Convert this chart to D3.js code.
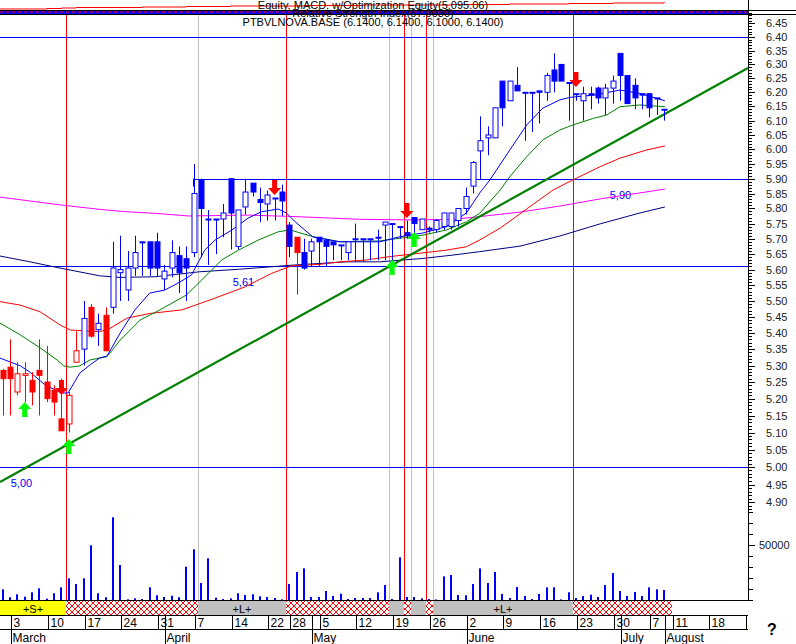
<!DOCTYPE html>
<html><head><meta charset="utf-8">
<script src="https://cdn.jsdelivr.net/npm/d3@7"></script>
<style>body{margin:0;background:#fff} svg{display:block;font-family:Arial,"Liberation Sans",sans-serif}</style>
</head><body><svg id="c" width="796" height="644"></svg>
<script>
// ---------- DATA ----------
const dayIndex = d3.range(-1, 90); // trading-day index, 0 = 3 March
const opens  = [5.285,5.295,5.22,5.27,5.255,5.285,5.25,5.225,5.14,5.125,5.31,5.35,5.48,5.41,5.455,5.48,5.59,5.535,5.605,5.688,5.69,5.69,5.57,5.605,5.645,5.635,5.655,5.895,5.762,5.762,5.765,5.90,5.675,5.805,5.885,5.83,5.815,5.832,5.855,5.745,5.705,5.655,5.66,5.705,5.695,5.69,5.678,5.655,5.698,5.698,5.698,5.703,5.745,5.748,5.738,5.72,5.77,5.73,5.735,5.73,5.74,5.74,5.76,5.80,5.875,5.995,6.04,6.04,6.24,6.17,6.225,6.198,6.198,6.205,6.20,6.28,6.30,6.232,6.193,6.17,6.195,6.215,6.18,6.215,6.34,6.26,6.225,6.195,6.195,6.178,6.138];
const highs  = [5.29,5.38,5.31,5.31,5.28,5.38,5.36,5.24,5.26,5.22,5.405,5.50,5.49,5.46,5.48,5.69,5.71,5.66,5.71,5.69,5.69,5.72,5.615,5.695,5.675,5.675,5.95,5.90,5.795,5.765,5.815,5.90,5.795,5.90,5.885,5.87,5.86,5.835,5.88,5.755,5.705,5.70,5.70,5.705,5.70,5.69,5.68,5.69,5.75,5.70,5.70,5.73,5.755,5.75,5.74,5.76,5.77,5.765,5.74,5.765,5.785,5.785,5.80,5.87,5.96,6.115,6.08,6.145,6.24,6.24,6.29,6.20,6.20,6.205,6.27,6.34,6.30,6.235,6.195,6.22,6.22,6.22,6.23,6.26,6.34,6.26,6.25,6.195,6.195,6.18,6.14];
const lows   = [5.15,5.15,5.21,5.19,5.18,5.15,5.19,5.15,5.105,5.10,5.31,5.30,5.385,5.36,5.345,5.46,5.50,5.50,5.58,5.58,5.58,5.58,5.535,5.575,5.525,5.50,5.64,5.64,5.615,5.65,5.705,5.665,5.665,5.78,5.84,5.755,5.76,5.76,5.775,5.64,5.52,5.60,5.61,5.61,5.61,5.63,5.63,5.63,5.625,5.625,5.63,5.63,5.63,5.63,5.70,5.70,5.71,5.73,5.72,5.72,5.73,5.73,5.74,5.78,5.85,5.896,5.98,6.04,6.08,6.17,6.205,6.03,6.06,6.09,6.17,6.20,6.24,6.10,6.17,6.10,6.14,6.16,6.12,6.16,6.17,6.16,6.14,6.14,6.112,6.12,6.10];
const closes = [5.26,5.26,5.275,5.275,5.22,5.27,5.20,5.19,5.105,5.21,5.345,5.445,5.39,5.43,5.345,5.605,5.60,5.605,5.655,5.69,5.605,5.605,5.595,5.655,5.59,5.605,5.85,5.80,5.765,5.765,5.785,5.785,5.795,5.855,5.855,5.82,5.845,5.835,5.825,5.675,5.655,5.605,5.69,5.69,5.675,5.68,5.68,5.69,5.70,5.70,5.70,5.705,5.755,5.75,5.74,5.71,5.75,5.765,5.73,5.76,5.785,5.785,5.80,5.84,5.955,6.03,6.05,6.145,6.145,6.24,6.205,6.20,6.20,6.20,6.26,6.24,6.24,6.235,6.195,6.195,6.19,6.18,6.215,6.24,6.26,6.16,6.18,6.19,6.145,6.18,6.14];
const candleColor = ["r","r","r","r","r","r","r","r","r","r","r","b","r","b","r","b","b","b","b","b","b","b","b","b","b","b","b","b","b","b","b","b","b","b","b","b","b","b","b","b","r","b","b","b","b","b","b","b","b","b","b","b","b","b","b","b","b","b","b","b","b","b","b","b","b","b","b","b","b","b","b","b","b","b","b","b","b","b","b","b","b","b","b","b","b","b","b","b","b","b","b"];
const volumes = [9700,2500,5200,3000,7000,10600,1200,6100,11500,19700,14500,19700,49700,6100,2500,75200,31800,600,1500,900,11500,4300,2700,3900,2500,30300,46100,15500,37900,2100,900,1500,6100,4500,5200,3400,2700,1800,600,14500,25500,28800,2700,2700,8200,3600,5700,900,1800,1800,1800,7000,13600,900,38800,2700,2700,1500,900,500,21500,22700,4500,4300,14500,28800,15500,25500,5500,1800,11800,3600,900,5500,11500,11500,500,7000,1800,3600,4800,2700,13600,24500,8200,3600,7300,3600,11500,9700,9100];

// moving averages: [dayIndex, price]
const maShort = [[-1.4,5.323],[0,5.311],[1.4,5.299],[2.7,5.280],[4.8,5.241],[7,5.217],[7.9,5.217],[9.5,5.277],[10.9,5.302],[12.2,5.323],[13.2,5.329],[15,5.400],[17,5.472],[19,5.525],[21.1,5.535],[23.1,5.560],[24.7,5.583],[26.5,5.663],[27.9,5.696],[30.2,5.729],[32.4,5.768],[34.2,5.789],[36.5,5.798],[37.6,5.785],[38.8,5.756],[41.2,5.706],[44.9,5.690],[50.3,5.690],[53.1,5.707],[56.2,5.719],[59.4,5.740],[62.1,5.785],[64,5.855],[65.3,5.896],[68,5.998],[70.3,6.085],[72.5,6.144],[74.8,6.173],[76.2,6.182],[79.4,6.190],[83,6.208],[85.7,6.196],[89.1,6.170]];
const maMid = [[-1.4,5.431],[1.4,5.394],[4.1,5.354],[6.4,5.317],[7.3,5.299],[8.2,5.295],[9.5,5.299],[10.9,5.317],[13.2,5.327],[15,5.378],[17.7,5.440],[20.4,5.472],[24,5.519],[26.1,5.567],[28.8,5.631],[31.1,5.663],[33.8,5.696],[36.5,5.723],[38.1,5.729],[41.2,5.707],[44.9,5.690],[50.3,5.693],[53.1,5.702],[56.2,5.712],[59.4,5.729],[62.1,5.756],[63.9,5.784],[66.7,5.862],[68,5.907],[70.3,5.975],[72.5,6.033],[74.8,6.067],[76.6,6.085],[79.4,6.108],[81.2,6.120],[83,6.149],[85.7,6.155],[89.1,6.149]];
const maLong = [[-1.4,5.498],[1.4,5.487],[4.1,5.466],[6.8,5.425],[8.2,5.409],[12.2,5.404],[13.6,5.414],[15.9,5.446],[19.1,5.461],[23.4,5.472],[27.9,5.509],[32,5.545],[35.6,5.588],[38.3,5.612],[42.2,5.617],[44.9,5.625],[48.5,5.631],[51.7,5.642],[55.8,5.653],[59.4,5.663],[62.1,5.674],[63.9,5.696],[66.7,5.735],[70.1,5.795],[73.9,5.862],[76.6,5.896],[80.3,5.941],[83,5.970],[86.6,5.998],[89.1,6.012]];
const ma100 = [[-1.4,5.838],[2.7,5.825],[6.8,5.812],[12.2,5.797],[15.9,5.789],[19.7,5.784],[24.3,5.775],[32.4,5.778],[38.8,5.773],[47.6,5.764],[54.9,5.762],[60.3,5.764],[63.9,5.773],[69.4,5.788],[74.8,5.808],[80.3,5.832],[85.7,5.852],[89.1,5.865]];
const ma200 = [[-1.4,5.644],[2.7,5.625],[6.8,5.605],[12.2,5.580],[14.97,5.575],[19.7,5.577],[25.8,5.593],[31.1,5.601],[38.8,5.615],[45.8,5.625],[50.3,5.625],[56.2,5.636],[60.3,5.647],[63.9,5.658],[69.4,5.676],[74.8,5.709],[80.3,5.749],[85.7,5.785],[89.1,5.805]];
const trendLine = [[-1.36,4.957],[100.4,6.287]];
const levels = [6.40, 5.90, 5.61, 5.00];
const levelStart = [-2, 24.9, -2, -2];
const levelLabels = [["5,00",0.1,5.00],["5,61",30.3,5.61],["5,90",81.6,5.90]];
const arrowsDown = [[7,5.211],[36,5.845],[54,5.768],[77,6.219]];
const arrowsUp = [[2,5.190],[8,5.081],[52,5.631],[55,5.722]];
const redSignals = [7.6,37.6,53.6,56.6,76.6];
const graySignals = [25.6,51.6,54.6,57.6];
const stripBounds = [-2,7.6,25.6,37.6,51.6,53.6,54.6,56.6,57.6,76.6,90.1];
const stripKinds  = ["S","X","L","X","L","X","L","X","L","X"];
const stripText   = ["+S+","","+L+","","","","","","+L+",""];
const dayTickK = [0,5,10,15,20,25,30,35,38,42,47,52,57,62,67,72,77,82,87,90,95,100];
const dayTickLabels = ["3","10","17","24","31","7","14","22","28","5","12","19","26","2","9","16","23","30","7","11","18","25"];
const monthK = [0,21,41,62,83,89];
const monthLabels = ["March","April","May","June","July","August"];
const equity = [[-2,9],[5,8.5],[7,8],[9,7.5],[18,7],[24,6.5],[30,6],[40,5.5],[48,5],[55,5],[60,4.5],[68,4],[76,3.5],[82,3],[89,2]];
const titleTexts = ["Equity, MACD, w/Optimization Equity(5,095.06)","Relative Strength Index(67.0030)","PTBVLNOVA.BASE (6.1400, 6.1400, 6.1000, 6.1400)"];

// ---------- SCALES ----------
const svg = d3.select("#c");
const PR = 748; // plot right edge
const x = d3.scaleLinear().domain([0,100]).range([10,745]);
const y = d3.scaleLog().domain([5.00,6.40]).range([467,37]);
const yv = d3.scaleLinear().domain([0,50000]).range([600,545]);
const RED="#ff0000", BLUE="#0000ff";

svg.append("defs").html(`
 <clipPath id="plot"><rect x="0" y="15" width="${PR}" height="585"/></clipPath>
 <pattern id="hatch" width="6" height="6" patternUnits="userSpaceOnUse">
  <rect width="6" height="6" fill="#fff"/>
  <path d="M0,0L6,6M6,0L0,6" stroke="#ff0000" stroke-width="1"/>
 </pattern>`);

// ---------- TOP PANE (equity strip) ----------
svg.append("path").datum(equity).attr("fill","none").attr("stroke",RED).attr("stroke-width",1)
  .attr("d", d3.line().curve(d3.curveStepAfter).x(d=>x(d[0])).y(d=>d[1]));
svg.append("line").attr("x1",0).attr("x2",796).attr("y1",10.5).attr("y2",10.5).attr("stroke","#000");
svg.append("rect").attr("x",0).attr("y",11).attr("width",PR).attr("height",3).attr("fill",BLUE);
svg.append("line").attr("x1",0).attr("x2",PR).attr("y1",12).attr("y2",12).attr("stroke",RED).attr("stroke-dasharray","3,3");
svg.append("line").attr("x1",0).attr("x2",796).attr("y1",14.5).attr("y2",14.5).attr("stroke","#000");

const g = svg.append("g").attr("clip-path","url(#plot)");

// signal verticals
graySignals.forEach(k=>g.append("line").attr("x1",Math.round(x(k))+0.5).attr("x2",Math.round(x(k))+0.5).attr("y1",0).attr("y2",600).attr("stroke","#c0c0c0"));
redSignals.forEach(k=>g.append("line").attr("x1",Math.round(x(k))+0.5).attr("x2",Math.round(x(k))+0.5).attr("y1",0).attr("y2",600).attr("stroke",RED));

// horizontal levels
levels.forEach((v,i)=>g.append("line").attr("x1",i==1?x(levelStart[i]):0).attr("x2",PR)
  .attr("y1",Math.round(y(v))+0.5).attr("y2",Math.round(y(v))+0.5).attr("stroke",BLUE));
g.append("line").attr("x1",Math.round(x(levelStart[1]))+0.5).attr("x2",Math.round(x(levelStart[1]))+0.5)
  .attr("y1",y(5.90)).attr("y2",y(5.90)+8).attr("stroke",BLUE);
levelLabels.forEach(d=>g.append("text").attr("x",x(d[1])).attr("y",y(d[2])+20).attr("font-size",11).attr("fill",BLUE).text(d[0]));

// moving averages
const ln = d3.line().x(d=>x(d[0])).y(d=>y(d[1]));
[[ma200,"#000080"],[ma100,"#ff00ff"],[maLong,RED],[maMid,"#008000"],[maShort,BLUE]].forEach(([d,c])=>
  g.append("path").datum(d).attr("fill","none").attr("stroke",c).attr("stroke-width",1).attr("d",ln));

// trend line
g.append("path").datum(trendLine).attr("fill","none").attr("stroke","#008000").attr("stroke-width",2.2).attr("d",ln);

// volume
g.selectAll(".vol").data(dayIndex).join("rect").attr("x",k=>Math.round(x(k))-1).attr("width",2)
  .attr("y",(k,i)=>yv(volumes[i])).attr("height",(k,i)=>600-yv(volumes[i])).attr("fill",BLUE);

// candles
dayIndex.forEach((k,i)=>{
  const c = candleColor[i]=="r"?RED:BLUE;
  const cx = Math.round(x(k))+0.5;
  g.append("line").attr("x1",cx).attr("x2",cx).attr("y1",y(highs[i])).attr("y2",y(lows[i])).attr("stroke",c);
  const o=opens[i], cl=closes[i];
  const top=y(Math.max(o,cl)), bot=y(Math.min(o,cl));
  const hollow = cl>o;
  g.append("rect").attr("x",cx-2.5).attr("width",5).attr("y",top).attr("height",Math.max(1,bot-top))
    .attr("fill",hollow?"#fff":c).attr("stroke",c).attr("stroke-width",1);
});

// arrows
function arrow(k,tip,dir,color){
  const cx=x(k), s=dir; // s=1 down arrow (tip at bottom)
  const pts=[[0,0],[-6.5,-7*s],[-2.5,-7*s],[-2.5,-15*s],[2.5,-15*s],[2.5,-7*s],[6.5,-7*s]];
  g.append("polygon").attr("points",pts.map(p=>[cx+p[0],y(tip)+p[1]].join(",")).join(" ")).attr("fill",color);
}
arrowsDown.forEach(a=>arrow(a[0],a[1],1,RED));
arrowsUp.forEach(a=>arrow(a[0],a[1],-1,"#00ff00"));

// titles (overlapping in the original as well)
titleTexts.forEach((t,i)=>svg.append("text").attr("x",373).attr("y",[9,17,26][i]).attr("text-anchor","middle")
  .attr("font-size",11).attr("fill","#000").text(t));

// ---------- RIGHT AXIS ----------
svg.append("line").attr("x1",PR+0.5).attr("x2",PR+0.5).attr("y1",0).attr("y2",600).attr("stroke","#000");
const minor = d3.range(488,650).map(v=>v/100).filter(v=>y(v)>=0);
minor.forEach(v=>svg.append("line").attr("x1",PR).attr("x2",PR+4).attr("y1",Math.round(y(v))+0.5).attr("y2",Math.round(y(v))+0.5).attr("stroke","#000"));
const major = d3.range(98,130).map(v=>v*5/100);
major.forEach(v=>{
  svg.append("line").attr("x1",PR).attr("x2",PR+7).attr("y1",Math.round(y(v))+0.5).attr("y2",Math.round(y(v))+0.5).attr("stroke","#000");
  svg.append("text").attr("x",766).attr("y",y(v)+4).attr("font-size",11).attr("fill","#222").text(v.toFixed(2));
});
[0,10000,20000,30000,40000,50000,60000,70000,80000].forEach(v=>{
  svg.append("line").attr("x1",PR).attr("x2",PR+(v==50000?7:5)).attr("y1",Math.round(yv(v))+0.5).attr("y2",Math.round(yv(v))+0.5).attr("stroke","#000");
});
svg.append("text").attr("x",759).attr("y",yv(50000)+4).attr("font-size",11).attr("fill","#222").text("50000");

// ---------- SIGNAL STRIP ----------
const sg = svg.append("g");
stripKinds.forEach((kd,i)=>{
  const x0 = Math.max(0,Math.round(x(stripBounds[i]))), x1=Math.round(x(stripBounds[i+1]));
  sg.append("rect").attr("x",x0).attr("y",601).attr("width",x1-x0).attr("height",14)
    .attr("fill",kd=="S"?"#ffff00":kd=="L"?"#c0c0c0":"url(#hatch)");
  if(stripText[i]) sg.append("text").attr("x",(x0+x1)/2).attr("y",612.5).attr("text-anchor","middle").attr("font-size",11).text(stripText[i]);
});
sg.append("line").attr("x1",0).attr("x2",PR).attr("y1",600.5).attr("y2",600.5).attr("stroke","#000");
sg.append("line").attr("x1",0).attr("x2",PR).attr("y1",615.5).attr("y2",615.5).attr("stroke","#000");
sg.append("line").attr("x1",0).attr("x2",PR).attr("y1",629.5).attr("y2",629.5).attr("stroke","#000");

// ---------- DATE AXIS ----------
dayTickK.forEach((k,i)=>{
  const tx = Math.round(x(k))+1.5;
  sg.append("line").attr("x1",tx).attr("x2",tx).attr("y1",616).attr("y2",629).attr("stroke","#000");
  sg.append("text").attr("x",tx+2).attr("y",627).attr("font-size",12).text(dayTickLabels[i]);
});
monthK.forEach((k,i)=>{
  const tx = Math.round(x(k))+1.5;
  sg.append("line").attr("x1",tx).attr("x2",tx).attr("y1",616).attr("y2",644).attr("stroke","#000");
  sg.append("text").attr("x",tx+1).attr("y",642).attr("font-size",12).text(monthLabels[i]);
});
svg.append("rect").attr("x",PR+1).attr("y",616).attr("width",48).attr("height",28).attr("fill","#fff");
svg.append("text").attr("x",767).attr("y",635).attr("font-size",16).attr("font-weight","bold").text("?");
</script></body></html>
